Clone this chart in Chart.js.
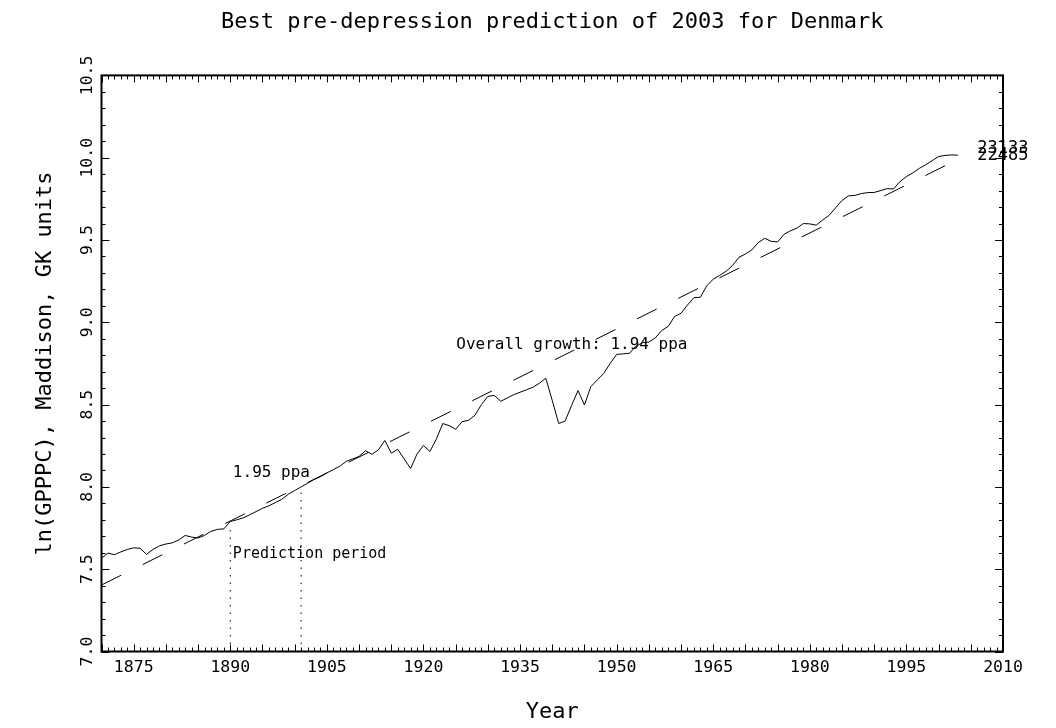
<!DOCTYPE html>
<html>
<head>
<meta charset="utf-8">
<title>Best pre-depression prediction of 2003 for Denmark</title>
<script src="https://cdn.jsdelivr.net/npm/chart.js@4.4.1/dist/chart.umd.min.js"></script>
<style>
  html, body { margin: 0; padding: 0; background: #fff; }
  #chart { display: block; }
</style>
</head>
<body>
<canvas id="chart" width="1056" height="728"></canvas>
<script>
const FIRST_YEAR = 1870;

// ln(GDP per capita), one value per year from 1870 to 2003
const gdpLn = [
    7.567, 7.598, 7.588, 7.605, 7.620, 7.630, 7.627, 7.590, 7.620, 7.642, // 1870s
    7.653, 7.660, 7.678, 7.705, 7.695, 7.690, 7.705, 7.730, 7.742, 7.745, // 1880s
    7.790, 7.800, 7.812, 7.830, 7.850, 7.870, 7.885, 7.905, 7.925, 7.955, // 1890s
    7.978, 8.000, 8.022, 8.045, 8.062, 8.085, 8.105, 8.125, 8.155, 8.170, // 1900s
    8.185, 8.220, 8.198, 8.225, 8.282, 8.205, 8.228, 8.170, 8.112, 8.200, // 1910s
    8.252, 8.215, 8.290, 8.385, 8.372, 8.350, 8.396, 8.405, 8.435, 8.500, // 1920s
    8.550, 8.556, 8.520, 8.540, 8.560, 8.575, 8.590, 8.605, 8.630, 8.660, // 1930s
    8.525, 8.385, 8.400, 8.495, 8.585, 8.498, 8.610, 8.650, 8.690, 8.750, // 1940s
    8.805, 8.808, 8.812, 8.855, 8.876, 8.880, 8.905, 8.950, 8.975, 9.035, // 1950s
    9.055, 9.105, 9.150, 9.152, 9.222, 9.262, 9.285, 9.310, 9.345, 9.395, // 1960s
    9.415, 9.440, 9.485, 9.510, 9.492, 9.488, 9.535, 9.556, 9.572, 9.600, // 1970s
    9.598, 9.590, 9.622, 9.650, 9.695, 9.740, 9.768, 9.771, 9.782, 9.788, // 1980s
    9.789, 9.800, 9.812, 9.810, 9.855, 9.885, 9.908, 9.935, 9.957, 9.982, // 1990s
    10.007, 10.014, 10.017, 10.015                                        // 2000-2003
];

// dashed prediction line (1.95 ppa fitted on the prediction period)
const trendYears = [1870, 2003];
const trendLn = [7.404, 9.990];

// prediction period markers
const predYears = [1890, 1901];
const predTop = [7.77, 7.98];

const xTickYears = [1875, 1890, 1905, 1920, 1935, 1950, 1965, 1980, 1995, 2010];
const yTickValues = [7.0, 7.5, 8.0, 8.5, 9.0, 9.5, 10.0, 10.5];

// text written inside the plot
const notes = [
    { text: '1.95 ppa', year: 1890.4, ln: 8.062, size: 16 },
    { text: 'Prediction period', year: 1890.4, ln: 7.570, size: 15 },
    { text: 'Overall growth: 1.94 ppa', year: 1925.1, ln: 8.840, size: 16 },
    { text: '23133', year: 2006.0, ln: 10.027, size: 17 },
    { text: '22485', year: 2006.0, ln: 9.983, size: 17 }
];

const FONT = 'DejaVu Sans Mono';
Chart.defaults.font.family = FONT;
Chart.defaults.color = '#000';

const actualPoints = gdpLn.map((v, i) => ({ x: FIRST_YEAR + i, y: v }));
const trendPoints = trendYears.map((yr, i) => ({ x: yr, y: trendLn[i] }));

function predDataset(i) {
    return {
        data: [{ x: predYears[i], y: 7.0 }, { x: predYears[i], y: predTop[i] }],
        borderColor: '#000',
        borderWidth: 1,
        borderDash: [1.5, 6],
        pointRadius: 0
    };
}

// IDL style box with inward ticks on all four sides
const framePlugin = {
    id: 'idlFrame',
    afterDraw(chart) {
        const { ctx, chartArea: a, scales } = chart;
        const xs = scales.x, ys = scales.y;
        ctx.save();
        ctx.strokeStyle = '#000';
        ctx.lineWidth = 1;
        ctx.beginPath();
        for (let yr = 1870; yr <= 2010; yr++) {
            const px = Math.round(xs.getPixelForValue(yr)) + 0.5;
            const len = yr % 5 === 0 ? 7 : 4;
            ctx.moveTo(px, a.bottom); ctx.lineTo(px, a.bottom - len);
            ctx.moveTo(px, a.top); ctx.lineTo(px, a.top + len);
        }
        for (let t = 70; t <= 105; t++) {
            const py = Math.round(ys.getPixelForValue(t / 10)) + 0.5;
            const len = t % 5 === 0 ? 8 : 4;
            ctx.moveTo(a.left, py); ctx.lineTo(a.left + len, py);
            ctx.moveTo(a.right, py); ctx.lineTo(a.right - len, py);
        }
        ctx.stroke();
        ctx.lineWidth = 2;
        ctx.strokeRect(a.left, a.top, a.right - a.left, a.bottom - a.top);

        ctx.fillStyle = '#000';
        ctx.textAlign = 'left';
        ctx.textBaseline = 'alphabetic';
        notes.forEach(n => {
            ctx.font = n.size + 'px "' + FONT + '"';
            ctx.fillText(n.text, xs.getPixelForValue(n.year), ys.getPixelForValue(n.ln));
        });
        ctx.restore();
    }
};

new Chart(document.getElementById('chart'), {
    type: 'line',
    data: {
        datasets: [
            {
                data: actualPoints,
                borderColor: '#000',
                borderWidth: 1,
                pointRadius: 0,
                tension: 0
            },
            {
                data: trendPoints,
                borderColor: '#000',
                borderWidth: 1,
                borderDash: [22, 24],
                pointRadius: 0
            },
            predDataset(0),
            predDataset(1)
        ]
    },
    options: {
        responsive: false,
        animation: false,
        devicePixelRatio: 1,
        layout: { padding: { left: 11.5, right: 53, top: 0, bottom: 0 } },
        plugins: {
            legend: { display: false },
            tooltip: { enabled: false },
            title: {
                display: true,
                text: 'Best pre-depression prediction of 2003 for Denmark',
                fullSize: false,
                font: { size: 22, weight: 'normal' },
                color: '#000',
                padding: { top: 8.8, bottom: 40.2 }
            }
        },
        scales: {
            x: {
                type: 'linear',
                min: 1870,
                max: 2010,
                afterBuildTicks: s => { s.ticks = xTickYears.map(v => ({ value: v })); },
                afterFit: s => { s.height = 76.5; },
                ticks: {
                    autoSkip: false,
                    maxRotation: 0,
                    padding: 6.6,
                    font: { size: 16.5 },
                    callback: v => String(v)
                },
                grid: { display: false, drawTicks: false },
                border: { display: false },
                title: {
                    display: true,
                    text: 'Year',
                    font: { size: 22 },
                    padding: { top: 0, bottom: 2.8 }
                }
            },
            y: {
                type: 'linear',
                min: 7,
                max: 10.5,
                afterBuildTicks: s => { s.ticks = yTickValues.map(v => ({ value: v })); },
                afterFit: s => { s.width = 90; },
                ticks: {
                    autoSkip: false,
                    minRotation: 90,
                    maxRotation: 90,
                    crossAlign: 'center',
                    padding: -6.4,
                    font: { size: 16.5 },
                    callback: v => v.toFixed(1)
                },
                grid: { display: false, drawTicks: false },
                border: { display: false },
                title: {
                    display: true,
                    text: 'ln(GPPPC), Maddison, GK units',
                    font: { size: 22 },
                    padding: { top: 20.3, bottom: 0 }
                }
            }
        }
    },
    plugins: [framePlugin]
});
</script>
</body>
</html>
